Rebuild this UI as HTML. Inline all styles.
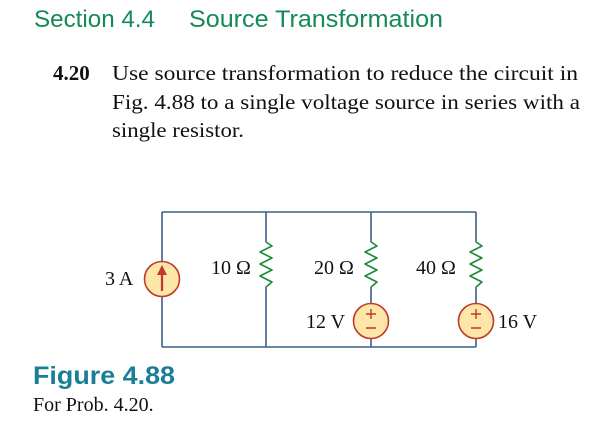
<!DOCTYPE html>
<html><head><meta charset="utf-8"><style>
html,body{margin:0;padding:0;background:#fff;width:602px;height:430px;overflow:hidden}
svg{display:block}
</style></head><body>
<svg width="602" height="430" viewBox="0 0 602 430" xmlns="http://www.w3.org/2000/svg">
<text x="34" y="27" font-family="Liberation Sans, sans-serif" font-size="24.5" fill="#138a57" textLength="121" lengthAdjust="spacingAndGlyphs">Section 4.4</text>
<text x="189" y="27" font-family="Liberation Sans, sans-serif" font-size="24.5" fill="#138a57" textLength="254" lengthAdjust="spacingAndGlyphs">Source Transformation</text>
<g font-family="Liberation Serif, serif" font-size="21" fill="#111">
<text x="53" y="80" font-weight="bold">4.20</text>
<text x="112" y="80" textLength="466" lengthAdjust="spacingAndGlyphs">Use source transformation to reduce the circuit in</text>
<text x="112" y="109" textLength="468" lengthAdjust="spacingAndGlyphs">Fig. 4.88 to a single voltage source in series with a</text>
<text x="112" y="137" textLength="132" lengthAdjust="spacingAndGlyphs">single resistor.</text>
</g>
<g stroke="#3b5f8a" stroke-width="1.6" fill="none">
<path d="M162 212H476M162 347H476M162 212V347M266 212V242M266 287V347M371 212V242M371 287V347M476 212V242M476 287V347"/>
</g>
<g stroke="#1d8a3a" stroke-width="1.6" fill="none" stroke-linejoin="round">
<path d="M266 242L272 246L260 252L272 258L260 264L272 270L260 276L272 282L266 287"/>
<path d="M371 242L377 246L365 252L377 258L365 264L377 270L365 276L377 282L371 287"/>
<path d="M476 242L482 246L470 252L482 258L470 264L482 270L470 276L482 282L476 287"/>
</g>
<g stroke="#c0392b" stroke-width="1.6" fill="#fde6a8">
<circle cx="162" cy="279" r="17.5"/>
<circle cx="371" cy="321" r="17.5"/>
<circle cx="476" cy="321" r="17.5"/>
</g>
<path d="M162 291V273" stroke="#c0392b" stroke-width="2.2"/>
<path d="M157 275L162 265L167 275Z" fill="#c0392b"/>
<g stroke="#c0392b" stroke-width="1.4">
<path d="M366 314H376M371 309V319M366 328H376"/>
<path d="M471 314H481M476 309V319M471 328H481"/>
</g>
<g font-family="Liberation Serif, serif" font-size="20" fill="#111">
<text x="105" y="285">3 A</text>
<text x="211" y="274">10 Ω</text>
<text x="314" y="274">20 Ω</text>
<text x="416" y="274">40 Ω</text>
<text x="306" y="328">12 V</text>
<text x="498" y="328">16 V</text>
</g>
<text x="33" y="384" font-family="Liberation Sans, sans-serif" font-weight="bold" font-size="25" fill="#1a7f96" textLength="142" lengthAdjust="spacingAndGlyphs">Figure 4.88</text>
<text x="33" y="411" font-family="Liberation Serif, serif" font-size="20" fill="#111">For Prob. 4.20.</text>
</svg>
</body></html>
